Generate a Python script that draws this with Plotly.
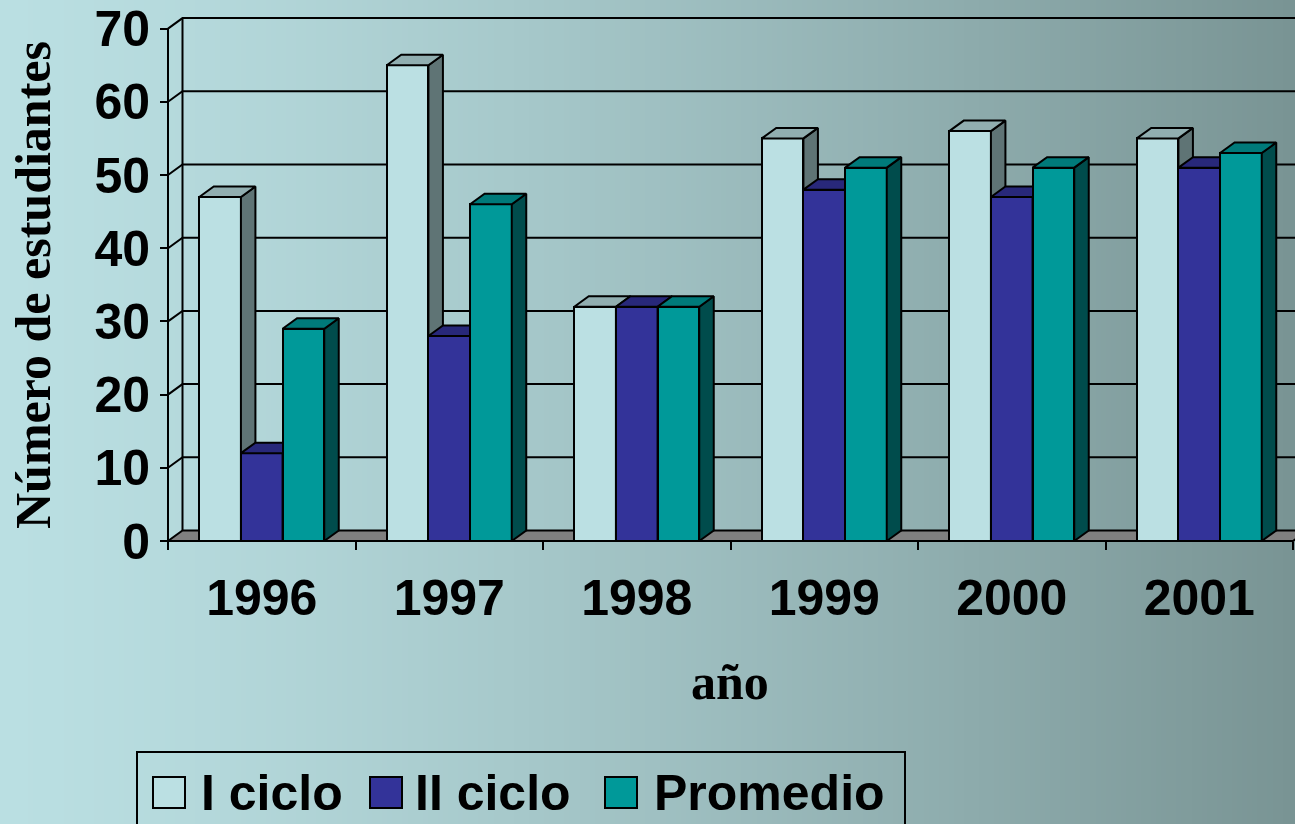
import base64
import struct
import zlib

import plotly.graph_objects as go

# ---- data -------------------------------------------------------------
years = ["1996", "1997", "1998", "1999", "2000", "2001"]
ciclo_1 = [47, 65, 32, 55, 56, 55]
ciclo_2 = [12, 28, 32, 48, 47, 51]
promedio = [29, 46, 32, 51, 51, 53]
y_ticks = [0, 10, 20, 30, 40, 50, 60, 70]

# name, values, front colour, top colour, side colour
series = [
    ("I ciclo", ciclo_1, "#BBE0E3", "#91AEB0", "#5F7475"),
    ("II ciclo", ciclo_2, "#333399", "#28287A", "#1E1E66"),
    ("Promedio", promedio, "#009999", "#007A7A", "#004C4C"),
]

# ---- geometry ---------------------------------------------------------
W, H = 1295, 824
AXIS_X_PX = 168      # pixel column of the value axis
BASE_Y_PX = 541      # pixel row of the zero line
CAT_PX = 187.5       # pixels per category
VAL_PX = 7.32        # pixels per student
DEPTH_X_PX = 14.5    # 3-D depth offset, horizontal
DEPTH_Y_PX = 10.5    # 3-D depth offset, vertical

DX = DEPTH_X_PX / CAT_PX
DY = DEPTH_Y_PX / VAL_PX
x_range = [-AXIS_X_PX / CAT_PX, (W - AXIS_X_PX) / CAT_PX]
y_range = [-(H - BASE_Y_PX) / VAL_PX, BASE_Y_PX / VAL_PX]

n = len(years)
bar_w = 1 / 4.5          # three bars per group, 150 % gap
top_val = y_ticks[-1]

SANS = "Liberation Sans, Arial, sans-serif"
SERIF = "Liberation Serif, Times New Roman, serif"


def gradient_png(width, left, right, gamma):
    """One-row PNG with a horizontal colour ramp, as a data URI."""
    row = bytearray([0])
    for i in range(width):
        t = (i / (width - 1)) ** gamma
        row += bytes(round(a + (b - a) * t) for a, b in zip(left, right))

    def chunk(tag, data):
        body = struct.pack(">I", len(data)) + tag + data
        return body + struct.pack(">I", zlib.crc32(tag + data) & 0xFFFFFFFF)

    png = (b"\x89PNG\r\n\x1a\n"
           + chunk(b"IHDR", struct.pack(">IIBBBBB", width, 1, 8, 2, 0, 0, 0))
           + chunk(b"IDAT", zlib.compress(bytes(row)))
           + chunk(b"IEND", b""))
    return "data:image/png;base64," + base64.b64encode(png).decode()


fig = go.Figure()

# ---- floor, walls and gridlines (base layer) --------------------------
fig.add_trace(go.Scatter(
    x=[0, n, n + DX, DX, 0], y=[0, 0, DY, DY, 0],
    mode="lines", fill="toself", fillcolor="#808080",
    line=dict(color="black", width=2), hoverinfo="skip", showlegend=False))

wall_x, wall_y = [], []
x_far = x_range[1] + 1
for v in y_ticks[1:]:
    wall_x += [0, DX, x_far, None]
    wall_y += [v, v + DY, v + DY, None]
wall_x += [DX, DX, None, 0, 0, None]
wall_y += [DY, top_val + DY, None, 0, top_val, None]
fig.add_trace(go.Scatter(
    x=wall_x, y=wall_y, mode="lines",
    line=dict(color="black", width=2), hoverinfo="skip", showlegend=False))

# ---- 3-D columns, one overlaid layer per series -----------------------
for k, (name, vals, c_front, c_top, c_side) in enumerate(series):
    ax = str(k + 2)
    centers = [i + 0.5 + (k - 1) * bar_w for i in range(n)]
    fig.add_trace(go.Bar(
        x=centers, y=vals, width=bar_w, name=name,
        marker=dict(color=c_front, line=dict(color="black", width=2)),
        xaxis="x" + ax, yaxis="y" + ax, showlegend=False))

    side_x, side_y, top_x, top_y = [], [], [], []
    for xc, v in zip(centers, vals):
        xl, xr = xc - bar_w / 2, xc + bar_w / 2
        side_x += [xr, xr + DX, xr + DX, xr, xr, None]
        side_y += [0, DY, v + DY, v, 0, None]
        top_x += [xl, xr, xr + DX, xl + DX, xl, None]
        top_y += [v, v, v + DY, v + DY, v, None]
    for px, py, col in ((side_x, side_y, c_side), (top_x, top_y, c_top)):
        fig.add_trace(go.Scatter(
            x=px, y=py, mode="lines", fill="toself", fillcolor=col,
            line=dict(color="black", width=2), hoverinfo="skip",
            xaxis="x" + ax, yaxis="y" + ax, showlegend=False))

# ---- axes -------------------------------------------------------------
tick_font = dict(family=SANS, size=50, color="black", weight="bold")
layout_axes = dict(
    xaxis=dict(
        range=x_range, domain=[0, 1], anchor="free",
        position=(H - BASE_Y_PX) / H,
        tickmode="array", tickvals=[i + 0.5 for i in range(n)], ticktext=years,
        ticks="", tickfont=tick_font, ticklabelstandoff=23,
        minor=dict(tick0=0, dtick=1, ticks="outside", ticklen=8,
                   tickwidth=2, tickcolor="black"),
        showgrid=False, zeroline=False, showline=False, fixedrange=True),
    yaxis=dict(
        range=y_range, domain=[0, 1], anchor="free", position=AXIS_X_PX / W,
        tickmode="array", tickvals=y_ticks, ticks="outside", ticklen=8,
        tickwidth=2, tickcolor="black", tickfont=tick_font,
        ticklabelstandoff=0,
        showgrid=False, zeroline=False, showline=False, fixedrange=True),
)
for k in range(len(series)):
    ax = str(k + 2)
    layout_axes["xaxis" + ax] = dict(overlaying="x", anchor="y" + ax,
                                     range=x_range, visible=False,
                                     fixedrange=True)
    layout_axes["yaxis" + ax] = dict(overlaying="y", anchor="x" + ax,
                                     range=y_range, visible=False,
                                     fixedrange=True)


def px_x(p):
    return p / W


def px_y(p):
    return 1 - p / H


annotations = [
    dict(text="Número de estudiantes", x=px_x(33), y=px_y(285),
         textangle=-90, font=dict(family=SERIF, size=50, color="black",
                                  weight="bold")),
    dict(text="año", x=px_x(730), y=px_y(682),
         font=dict(family=SERIF, size=50, color="black", weight="bold")),
]

# ---- legend -----------------------------------------------------------
shapes = [dict(type="rect", xref="paper", yref="paper",
               x0=px_x(137), x1=px_x(905), y0=px_y(752), y1=px_y(840),
               line=dict(color="black", width=2), fillcolor="rgba(0,0,0,0)")]
legend_items = [(153, 199), (370, 413), (605, 652)]
for (sq_x, txt_x), (name, _, c_front, _, _) in zip(legend_items, series):
    shapes.append(dict(type="rect", xref="paper", yref="paper",
                       x0=px_x(sq_x), x1=px_x(sq_x + 32),
                       y0=px_y(777), y1=px_y(808),
                       line=dict(color="black", width=2), fillcolor=c_front))
    annotations.append(dict(text=name, x=px_x(txt_x), y=px_y(793),
                            xanchor="left", yanchor="middle",
                            font=dict(family=SANS, size=50, color="black",
                                      weight="bold")))
for a in annotations:
    a.update(xref="paper", yref="paper", showarrow=False)
    a.setdefault("xanchor", "center")
    a.setdefault("yanchor", "middle")

fig.update_layout(
    width=W, height=H, autosize=False,
    margin=dict(l=0, r=0, t=0, b=0, pad=0),
    paper_bgcolor="#A0C0C2", plot_bgcolor="rgba(0,0,0,0)",
    showlegend=False, bargap=0,
    images=[dict(source=gradient_png(256, (186, 223, 226), (121, 148, 148), 1.3),
                 xref="paper", yref="paper", x=0, y=1, sizex=1, sizey=1,
                 sizing="stretch", layer="below", xanchor="left",
                 yanchor="top")],
    shapes=shapes, annotations=annotations,
    **layout_axes,
)

fig.write_html("out.html")
